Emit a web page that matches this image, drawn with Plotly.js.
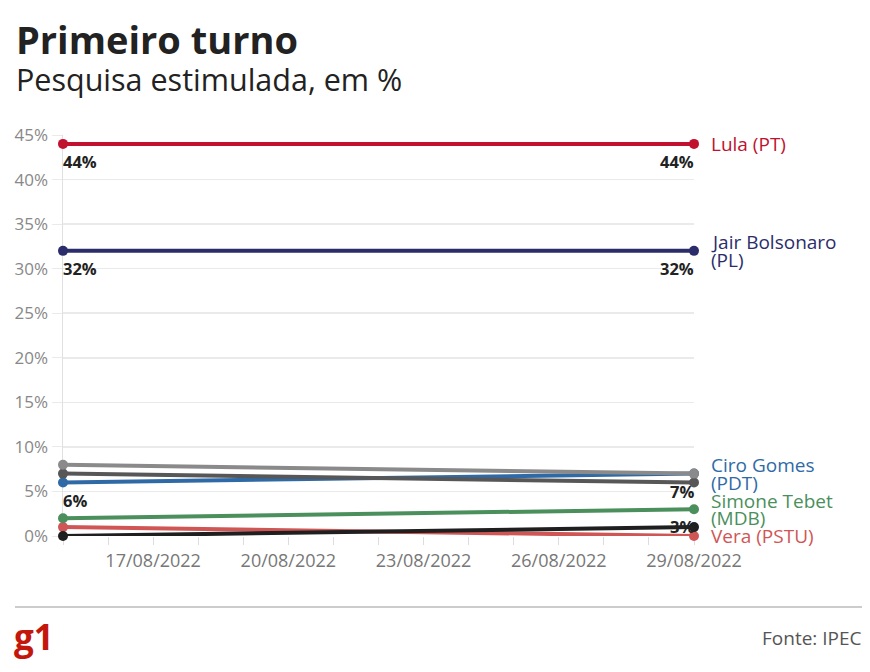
<!DOCTYPE html>
<html>
<head>
<meta charset="utf-8">
<script src="https://cdn.plot.ly/plotly-3.0.1.min.js"></script>
<style>html,body{margin:0;padding:0;background:#fff;}#chart{width:870px;height:672px;}</style>
</head>
<body>
<div id="chart"></div>
<script>
const dates = ['2022-08-15', '2022-08-29'];
const tickDates = ['2022-08-17', '2022-08-20', '2022-08-23', '2022-08-26', '2022-08-29'];
const tickLabels = ['17/08/2022', '20/08/2022', '23/08/2022', '26/08/2022', '29/08/2022'];

const lula = [44, 44];
const bolsonaro = [32, 32];
const vera = [1, 0];
const outrosPreto = [0, 1];
const simone = [2, 3];
const ciro = [6, 7];
const outrosCinzaEscuro = [7, 6];
const outrosCinzaClaro = [8, 7];

const lulaText = ['44%', '44%'];
const bolsonaroText = ['32%', '32%'];
const simoneText = ['', '3%'];
const ciroText = ['6%', '7%'];

const labelLines = [['Lula (PT)'], ['Jair Bolsonaro', '(PL)'], ['Ciro Gomes', '(PDT)'], ['Simone Tebet', '(MDB)'], ['Vera (PSTU)']];
const labelValues = [lula[1], bolsonaro[1], ciro[1], simone[1], vera[1]];
const labelColors = ['#c0112f', '#2b2d6b', '#2f6aa6', '#4a8f5c', '#d05656'];

const FONT = 'Open Sans, Noto Sans, sans-serif';
const L = 63, R = 176, T = 135, B = 136, W = 870, H = 672;
const pw = W - L - R, ph = H - T - B;
const px = x => (x - L) / pw;
const py = y => (H - B - y) / ph;

function series(y, color) {
  return {
    x: dates, y: y, type: 'scatter', mode: 'lines+markers',
    line: {color: color, width: 4}, marker: {color: color, size: 10},
    cliponaxis: false, hoverinfo: 'skip', showlegend: false
  };
}

const traces = [
  series(lula, '#c0112f'),
  series(bolsonaro, '#2b2d6b'),
  series(vera, '#d05656'),
  series(simone, '#4a8f5c'),
  series(outrosPreto, '#1f1f1f'),
  series(ciro, '#2f6aa6'),
  series(outrosCinzaEscuro, '#575757'),
  series(outrosCinzaClaro, '#8a8a8a')
];

const annotations = [];

// value labels under points
[[lula, lulaText], [bolsonaro, bolsonaroText], [simone, simoneText], [ciro, ciroText]].forEach(([vals, txt]) => {
  vals.forEach((v, i) => {
    if (!txt[i]) return;
    annotations.push({
      x: dates[i], y: v, xref: 'x', yref: 'y', text: '<b>' + txt[i] + '</b>',
      xanchor: i === 0 ? 'left' : 'right', yanchor: 'top', yshift: -4, xshift: i === 0 ? -2 : 2,
      showarrow: false, font: {family: FONT, size: 16.5, color: '#222'}
    });
  });
});

// series name labels at the right
labelLines.forEach((lines, i) => {
  const n = lines.length;
  lines.forEach((t, j) => {
    annotations.push({
      x: dates[1], y: labelValues[i], xref: 'x', yref: 'y', text: t,
      xanchor: 'left', yanchor: 'middle', xshift: 15, yshift: (n - 1) * 8.5 - j * 17.5,
      showarrow: false, align: 'left',
      font: {family: FONT, size: 19, color: labelColors[i]}
    });
  });
});

annotations.push(
  {xref: 'paper', yref: 'paper', x: px(14), y: py(39), xanchor: 'left', yanchor: 'middle', showarrow: false,
   text: '<b>Primeiro turno</b>', font: {family: FONT, size: 38, color: '#222'}},
  {xref: 'paper', yref: 'paper', x: px(14), y: py(79), xanchor: 'left', yanchor: 'middle', showarrow: false,
   text: 'Pesquisa estimulada, em %', font: {family: FONT, size: 30.5, color: '#222'}},
  {xref: 'paper', yref: 'paper', x: px(12), y: py(636), xanchor: 'left', yanchor: 'middle', showarrow: false,
   text: '<b>g1</b>', font: {family: FONT, size: 35, color: '#c4170c'}},
  {xref: 'paper', yref: 'paper', x: px(864), y: py(638), xanchor: 'right', yanchor: 'middle', showarrow: false,
   text: 'Fonte: IPEC', font: {family: FONT, size: 19, color: '#555'}}
);

const layout = {
  width: W, height: H,
  margin: {l: L, r: R, t: T, b: B, pad: 0},
  paper_bgcolor: '#fff', plot_bgcolor: '#fff',
  font: {family: FONT},
  xaxis: {
    type: 'date', range: [dates[0], dates[1]],
    tickvals: tickDates, ticktext: tickLabels,
    ticks: 'outside', ticklen: 8, tickcolor: '#dddddd', tickwidth: 1,
    minor: {dtick: 86400000, ticks: 'outside', ticklen: 8, tickcolor: '#dddddd', showgrid: false},
    showgrid: false, zeroline: false, showline: false, layer: 'below traces',
    tickfont: {family: FONT, size: 18, color: '#777'}
  },
  yaxis: {
    range: [0, 45], dtick: 5, tick0: 0, ticksuffix: '%',
    ticks: 'outside', ticklen: 10, tickcolor: '#eaeaea',
    showgrid: true, gridcolor: '#eaeaea', gridwidth: 1.5,
    zeroline: false, showline: true, linecolor: '#e0e0e0', linewidth: 1.5, layer: 'below traces',
    tickfont: {family: FONT, size: 17, color: '#888'}
  },
  shapes: [
    {type: 'line', xref: 'paper', yref: 'paper', x0: px(15), x1: px(862), y0: py(607), y1: py(607),
     line: {color: '#cccccc', width: 2}}
  ],
  annotations: annotations
};

Plotly.newPlot('chart', traces, layout, {displayModeBar: false, staticPlot: true});
</script>
</body>
</html>
